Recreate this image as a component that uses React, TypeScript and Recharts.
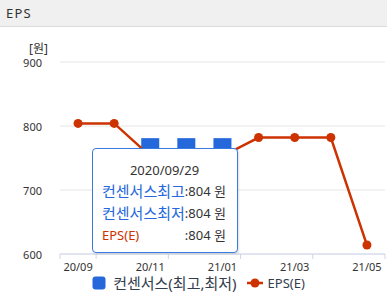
import React from 'react';
import { ComposedChart, Line, Bar, XAxis, YAxis, CartesianGrid, Tooltip, Legend } from 'recharts';

const categories = ['20/09', '20/10', '20/11', '20/12', '21/01', '21/02', '21/03', '21/04', '21/05'];
const epsValues = [804, 804, 753, 753, 753, 782, 782, 782, 614];
const consMax: (number | null)[] = [804, null, 781, 781, 781, null, null, null, null];
const consMin: (number | null)[] = [804, null, 730, 730, 730, null, null, null, null];
const yTicks = [600, 700, 800, 900];
const tooltipDate = '2020/09/29';

const FONT = '"Noto Sans", "Noto Sans CJK KR", sans-serif';
const RED = '#cc3300';
const BLUE = '#2468dc';
const W = 387;
const YAXIS_W = 60;
const MARGIN_R = 2;
const BAND = (W - YAXIS_W - MARGIN_R) / categories.length;

const data = categories.map((c, i) => ({
  cat: c,
  eps: epsValues[i],
  cons: consMax[i] != null && consMin[i] != null ? [consMin[i], consMax[i]] : null,
  consMax: consMax[i],
  consMin: consMin[i],
}));

const XTick = (props: any) => {
  const { x, y, payload, index } = props;
  return (
    <g>
      {index === 0 && <line x1={x - BAND / 2} x2={x - BAND / 2} y1={y} y2={y + 5} stroke="#ccd6eb" />}
      <line x1={x + BAND / 2} x2={x + BAND / 2} y1={y} y2={y + 5} stroke="#ccd6eb" />
      <text x={x} y={y + 12} textAnchor="middle" dominantBaseline="central" fontSize={11} fill="#333" fontFamily={FONT}>
        {payload.value}
      </text>
    </g>
  );
};

const YTick = (props: any) => {
  const { x, y, payload } = props;
  return (
    <text x={x - 10} y={y} textAnchor="end" dominantBaseline="central" fontSize={11} fill="#333" fontFamily={FONT}>
      {payload.value}
    </text>
  );
};

const UnitLabel = (props: any) => {
  const vb = props.viewBox || { x: 0, y: 35, width: 60 };
  return (
    <text x={vb.x + vb.width - 12} y={vb.y - 14} textAnchor="end" dominantBaseline="central" fontSize={12} fill="#333" fontFamily={FONT}>
      [원]
    </text>
  );
};

const TipContent = (props: any) => {
  const p = props.payload || [];
  const row = (p[0] && p[0].payload) || data[0];
  const vMax = row.consMax ?? row.eps;
  const vMin = row.consMin ?? row.eps;
  const cell: React.CSSProperties = { height: 22, lineHeight: '22px', whiteSpace: 'nowrap' };
  const hangul: React.CSSProperties = { ...cell, color: BLUE, fontSize: 15 };
  return (
    <div
      style={{
        width: 146,
        height: 105,
        boxSizing: 'border-box',
        border: '1px solid #3a7be0',
        borderRadius: 4,
        background: '#fff',
        fontFamily: FONT,
        fontSize: 13,
        color: '#333',
        padding: '11px 10px 0 9px',
        boxShadow: '1px 1px 2px rgba(0,0,0,0.12)',
      }}
    >
      <div style={{ height: 20, lineHeight: '20px', textAlign: 'center' }}>{tooltipDate}</div>
      <div style={{ display: 'grid', gridTemplateColumns: 'auto auto', justifyContent: 'start', alignItems: 'center' }}>
        <div style={hangul}>컨센서스최고</div>
        <div style={cell}>:{vMax} 원</div>
        <div style={hangul}>컨센서스최저</div>
        <div style={cell}>:{vMin} 원</div>
        <div style={{ ...cell, color: RED }}>EPS(E)</div>
        <div style={cell}>:{row.eps} 원</div>
      </div>
    </div>
  );
};

const LegendContent = () => (
  <div
    style={{
      height: 23,
      display: 'flex',
      alignItems: 'center',
      justifyContent: 'center',
      paddingLeft: 12,
      paddingBottom: 6,
      boxSizing: 'border-box',
      fontFamily: FONT,
      fontSize: 13,
      color: '#333d4d',
    }}
  >
    <svg width={14} height={14} style={{ marginRight: 7 }}>
      <rect x={0.5} y={0.5} width={13} height={13} rx={3} fill={BLUE} />
    </svg>
    <span style={{ fontSize: 15 }}>컨센서스(최고,최저)</span>
    <svg width={16} height={10} style={{ marginLeft: 10, marginRight: 5 }}>
      <line x1={0} x2={16} y1={5} y2={5} stroke={RED} strokeWidth={2.5} />
      <circle cx={8} cy={5} r={4.5} fill={RED} />
    </svg>
    <span>EPS(E)</span>
  </div>
);

export default function App() {
  return (
    <div style={{ position: 'absolute', left: 0, top: 0, width: W, height: 297, background: '#fff', overflow: 'hidden' }}>
      <div
        style={{
          height: 26,
          background: '#f0f0f0',
          borderBottom: '1px solid #dcdcdc',
          fontFamily: FONT,
          fontSize: 13,
          letterSpacing: 1.2,
          color: '#333',
          lineHeight: '26px',
          paddingLeft: 6,
          boxSizing: 'content-box',
        }}
      >
        EPS
      </div>
      <ComposedChart width={W} height={270} data={data} margin={{ top: 35, right: MARGIN_R, left: 0, bottom: 0 }}>
        <CartesianGrid vertical={false} stroke="#e6e6e6" />
        <XAxis
          dataKey="cat"
          interval={1}
          tickLine={false}
          tickSize={0}
          tickMargin={0}
          height={20}
          stroke="#ccd6eb"
          tick={<XTick />}
        />
        <YAxis
          width={YAXIS_W}
          domain={[600, 900]}
          ticks={yTicks}
          axisLine={false}
          tickLine={false}
          tick={<YTick />}
          label={{ content: <UnitLabel /> } as any}
        />
        <Bar dataKey="cons" name="컨센서스(최고,최저)" fill={BLUE} barSize={18} isAnimationActive={false} activeBar={false} />
        <Line
          dataKey="eps"
          name="EPS(E)"
          stroke={RED}
          strokeWidth={2.5}
          dot={{ r: 4.5, fill: RED, stroke: RED, strokeWidth: 0 }}
          activeDot={false}
          isAnimationActive={false}
        />
        <Legend verticalAlign="bottom" height={23} content={<LegendContent />} />
        <Tooltip
          active={true}
          defaultIndex={0}
          cursor={false}
          position={{ x: 92, y: 121 }}
          isAnimationActive={false}
          content={<TipContent />}
          wrapperStyle={{ outline: 'none' }}
        />
      </ComposedChart>
    </div>
  );
}
